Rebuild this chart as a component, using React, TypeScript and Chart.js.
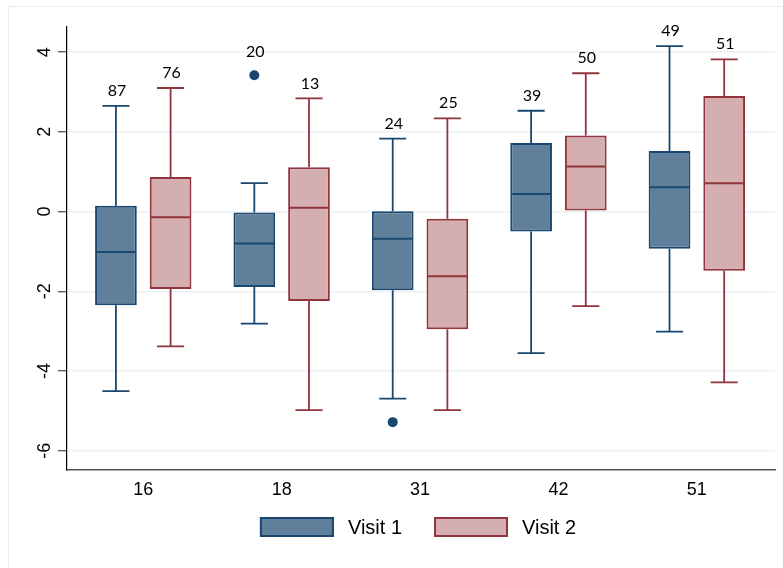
import React, { useEffect, useRef } from 'react';
import { Chart, registerables } from 'chart.js';

Chart.register(...registerables);

// ---- data ----
const categories = ['16', '18', '31', '42', '51'];
const seriesNames = ['Visit 1', 'Visit 2'];

const v1Low = [-4.5, -2.81, -4.69, -3.55, -3.01];
const v1Q1 = [-2.35, -1.89, -1.97, -0.5, -0.93];
const v1Median = [-1.01, -0.8, -0.68, 0.44, 0.61];
const v1Q3 = [0.145, -0.02, 0.01, 1.72, 1.52];
const v1High = [2.65, 0.715, 1.83, 2.53, 4.15];
const v1Outliers = [[], [3.42], [-5.28], [], []];
const v1N = [87, 20, 24, 39, 49];

const v2Low = [-3.38, -4.98, -4.98, -2.37, -4.28];
const v2Q1 = [-1.94, -2.24, -2.95, 0.03, -1.485];
const v2Median = [-0.14, 0.095, -1.62, 1.13, 0.71];
const v2Q3 = [0.87, 1.11, -0.18, 1.91, 2.9];
const v2High = [3.1, 2.84, 2.34, 3.47, 3.82];
const v2Outliers: number[][] = [[], [], [], [], []];
const v2N = [76, 13, 25, 50, 51];

const yTicks = [-6, -4, -2, 0, 2, 4];

// ---- styles ----
const CAT_PCT = 0.79;
const BAR_PCT = 0.763;
const lineColors = ['#1a476f', '#90353b'];
const fillColors = ['#5f7f9a', '#d4aeb1'];

const series = [
  { name: seriesNames[0], low: v1Low, q1: v1Q1, med: v1Median, q3: v1Q3, high: v1High, out: v1Outliers, n: v1N },
  { name: seriesNames[1], low: v2Low, q1: v2Q1, med: v2Median, q3: v2Q3, high: v2High, out: v2Outliers, n: v2N },
];

const boxPlugin = {
  id: 'boxDetails',
  beforeDraw(chart: any) {
    const ctx = chart.ctx;
    ctx.save();
    ctx.strokeStyle = '#ececec';
    ctx.lineWidth = 1;
    ctx.strokeRect(8.5, 6.5, 800, 600);
    ctx.restore();
  },
  afterDatasetsDraw(chart: any) {
    const ctx = chart.ctx;
    const ys = chart.scales.y;
    series.forEach((s, di) => {
      const meta = chart.getDatasetMeta(di);
      meta.data.forEach((el: any, i: number) => {
        const { x, width } = el.getProps(['x', 'width'], true);
        const half = width / 2;
        const capHalf = width * 0.325;
        const pMed = ys.getPixelForValue(s.med[i]);
        const pQ1 = ys.getPixelForValue(s.q1[i]);
        const pQ3 = ys.getPixelForValue(s.q3[i]);
        const pLo = ys.getPixelForValue(s.low[i]);
        const pHi = ys.getPixelForValue(s.high[i]);
        ctx.save();
        ctx.strokeStyle = lineColors[di];
        ctx.lineWidth = 2;
        ctx.beginPath();
        ctx.moveTo(x - half + 1, pMed);
        ctx.lineTo(x + half - 1, pMed);
        ctx.stroke();
        ctx.lineWidth = 1.8;
        ctx.beginPath();
        ctx.moveTo(x, pQ3);
        ctx.lineTo(x, pHi);
        ctx.moveTo(x - capHalf, pHi);
        ctx.lineTo(x + capHalf, pHi);
        ctx.moveTo(x, pQ1);
        ctx.lineTo(x, pLo);
        ctx.moveTo(x - capHalf, pLo);
        ctx.lineTo(x + capHalf, pLo);
        ctx.stroke();
        // count label
        const topVal = Math.max(s.high[i], ...s.out[i]);
        const pTop = ys.getPixelForValue(topVal);
        const hasOut = s.out[i].some((v: number) => v > s.high[i]);
        ctx.fillStyle = '#000';
        ctx.font = '16px Lato, "Noto Sans", sans-serif';
        ctx.textAlign = 'center';
        ctx.textBaseline = 'middle';
        ctx.fillText(String(s.n[i]), x + 1, pTop - (hasOut ? 23 : 15));
        ctx.restore();
      });
    });
  },
  afterDraw(chart: any) {
    const ctx = chart.ctx;
    const ys = chart.scales.y;
    const area = chart.chartArea;
    ctx.save();
    // y tick labels, rotated
    ctx.fillStyle = '#000';
    ctx.font = '18px "Liberation Sans", Arial, sans-serif';
    ctx.textAlign = 'center';
    ctx.textBaseline = 'alphabetic';
    yTicks.forEach((v) => {
      const py = ys.getPixelForValue(v);
      ctx.save();
      ctx.translate(50, py);
      ctx.rotate(-Math.PI / 2);
      ctx.fillText(String(v), 0, 0);
      ctx.restore();
    });
    // legend
    ctx.font = '20px "Liberation Sans", Arial, sans-serif';
    const boxW = 74;
    const boxH = 20;
    const gapText = 14;
    const gapItems = 32;
    const widths = seriesNames.map((t) => boxW + gapText + ctx.measureText(t).width);
    const total = widths.reduce((a, b) => a + b, 0) + gapItems * (widths.length - 1);
    let lx = (area.left + area.right) / 2 - total / 2 - 3;
    const ly = area.bottom + 47;
    seriesNames.forEach((t, i) => {
      ctx.fillStyle = fillColors[i];
      ctx.fillRect(lx, ly, boxW, boxH);
      ctx.strokeStyle = lineColors[i];
      ctx.lineWidth = 2;
      ctx.strokeRect(lx + 1, ly + 1, boxW - 2, boxH - 2);
      ctx.fillStyle = '#000';
      ctx.textAlign = 'left';
      ctx.textBaseline = 'alphabetic';
      ctx.fillText(t, lx + boxW + gapText, ly + boxH / 2 + 7);
      lx += widths[i] + gapItems;
    });
    ctx.restore();
  },
};

export default function App() {
  const ref = useRef<HTMLCanvasElement | null>(null);
  useEffect(() => {
    if (!ref.current) return;
    const offsets = [-CAT_PCT / 4, CAT_PCT / 4];
    const barSets = series.map((s, di) => ({
      type: 'bar' as const,
      label: s.name,
      data: categories.map((_, i) => ({ x: i, y: [s.q1[i], s.q3[i]] })),
      backgroundColor: fillColors[di],
      borderColor: lineColors[di],
      borderWidth: 2,
      borderSkipped: false,
      categoryPercentage: CAT_PCT,
      barPercentage: BAR_PCT,
    }));
    const outlierSets = series.map((s, di) => ({
      type: 'scatter' as const,
      label: s.name + ' outliers',
      data: s.out.flatMap((vals: number[], i: number) => vals.map((v) => ({ x: i + offsets[di], y: v }))),
      backgroundColor: lineColors[di],
      borderColor: lineColors[di],
      pointRadius: 5,
      pointBorderWidth: 0,
    }));
    const chart = new Chart(ref.current, {
      type: 'bar',
      data: { datasets: [...barSets, ...outlierSets] as any },
      options: {
        animation: false,
        responsive: false,
        layout: { padding: { left: 0, right: 8, top: 27, bottom: 0 } },
        plugins: { legend: { display: false }, tooltip: { enabled: false } },
        scales: {
          x: {
            type: 'linear',
            min: -0.551,
            max: 4.5647,
            offset: false,
            afterBuildTicks: (scale: any) => {
              scale.ticks = categories.map((_, i) => ({ value: i }));
            },
            afterFit: (scale: any) => {
              scale.height = 98;
            },
            grid: { display: false, drawTicks: false },
            border: { display: true, color: '#555', width: 1.5 },
            ticks: {
              padding: 9,
              color: '#000',
              font: { family: '"Liberation Sans", Arial, sans-serif', size: 18 },
              callback: (v: any) => categories[v] ?? '',
              maxRotation: 0,
              minRotation: 0,
            },
          },
          y: {
            type: 'linear',
            min: -6.48,
            max: 4.63,
            afterBuildTicks: (scale: any) => {
              scale.ticks = yTicks.map((v) => ({ value: v }));
            },
            afterFit: (scale: any) => {
              scale.width = 67;
            },
            grid: {
              color: '#eaf2f3',
              lineWidth: 1.5,
              drawTicks: true,
              tickLength: 9,
              tickColor: '#222',
              tickWidth: 1,
            },
            border: { display: true, color: '#000', width: 1.2 },
            ticks: { display: false },
          },
        },
      },
      plugins: [boxPlugin],
    });
    return () => chart.destroy();
  }, []);
  return (
    <div style={{ position: 'absolute', left: 0, top: 0, width: 783, height: 568, background: '#fff' }}>
      <canvas ref={ref} width={783} height={568} style={{ width: 783, height: 568, display: 'block' }} />
    </div>
  );
}
